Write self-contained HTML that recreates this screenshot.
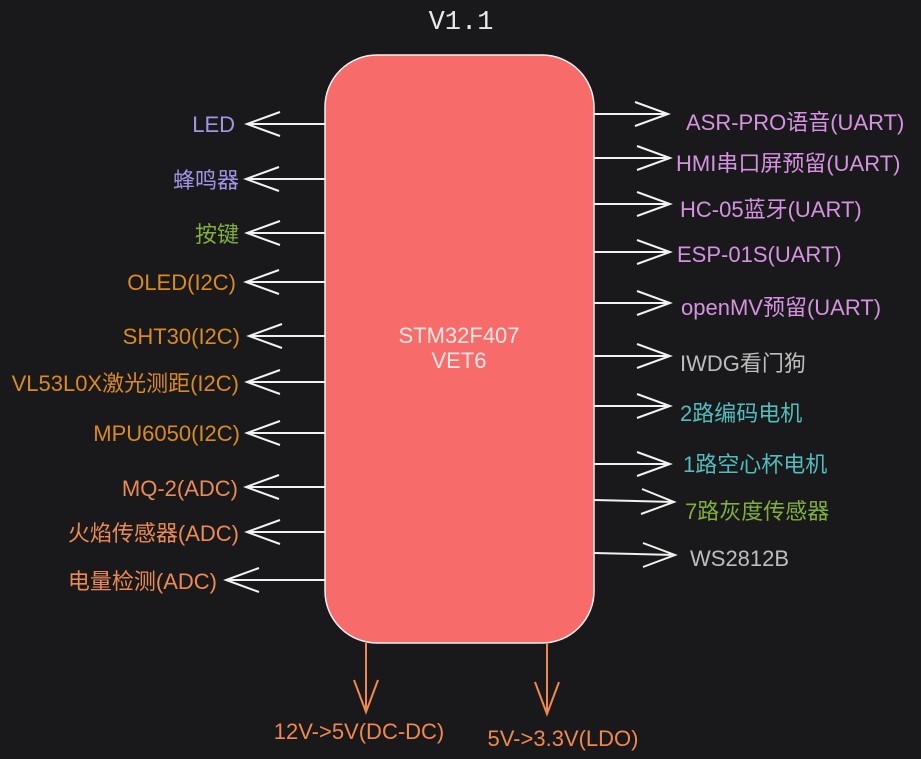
<!DOCTYPE html>
<html><head><meta charset="utf-8"><style>
html,body{margin:0;padding:0;background:#19191b;}
svg{display:block}
text{font-family:"Liberation Sans","Noto Sans CJK SC",sans-serif;font-size:22px;}
</style></head><body>
<svg width="921" height="759" viewBox="0 0 921 759" xmlns="http://www.w3.org/2000/svg">
<rect width="921" height="759" fill="#19191b"/>
<text x="461" y="29" text-anchor="middle" fill="#e8e8e8" style="font-family:'Liberation Mono',monospace;font-size:27px">V1.1</text>
<rect x="325" y="55" width="269" height="588" rx="52" ry="52" fill="#f76b6b" stroke="#f4f4f4" stroke-width="1.5"/>
<text x="459" y="343" text-anchor="middle" fill="#fde9e3">STM32F407</text>
<text x="459" y="368" text-anchor="middle" fill="#fde9e3">VET6</text>
<g stroke="#f2f2f2" stroke-width="2" fill="none">
<path d="M325 124H247M280 112L247 124L280 136"/>
<path d="M325 179H246M279 167L246 179L279 191"/>
<path d="M325 233H247M280 221L247 233L280 245"/>
<path d="M325 282H246M279 270L246 282L279 294"/>
<path d="M325 336H249M282 324L249 336L282 348"/>
<path d="M325 382H247M280 370L247 382L280 394"/>
<path d="M325 433H247M280 421L247 433L280 445"/>
<path d="M325 487H246M279 475L246 487L279 499"/>
<path d="M325 532H247M280 520L247 532L280 544"/>
<path d="M325 580H226M259 568L226 580L259 592"/>
<path d="M594 114H668M635 102L668 114L635 126"/>
<path d="M594 158H670M637 146L670 158L637 170"/>
<path d="M594 204H670M637 192L670 204L637 216"/>
<path d="M594 252H670M637 240L670 252L637 264"/>
<path d="M594 303H670M637 291L670 303L637 315"/>
<path d="M594 356H670M637 344L670 356L637 368"/>
<path d="M594 406H670M637 394L670 406L637 418"/>
<path d="M594 464H670M637 452L670 464L637 476"/>
<path d="M594 500L674 502M642 489L674 502L641 514"/>
<path d="M594 553L675 555M643 543L675 555L643 567"/>
</g>
<g stroke="#f0884f" stroke-width="2" fill="none">
<path d="M366 643V712M354 680L366 712L378 680"/>
<path d="M547 643V714M535 682L547 714L559 682"/>
</g>
<g text-anchor="end">
<text x="235" y="132" fill="#a394e6">LED</text>
<text x="239" y="188" fill="#a394e6">蜂鸣器</text>
<text x="239" y="242" fill="#7fb03a">按键</text>
<text x="236" y="290" fill="#d98a23">OLED(I2C)</text>
<text x="240" y="344" fill="#d98a23">SHT30(I2C)</text>
<text x="239" y="391" fill="#d98a23">VL53L0X激光测距(I2C)</text>
<text x="240" y="441" fill="#d98a23">MPU6050(I2C)</text>
<text x="238" y="496" fill="#ec8a55">MQ-2(ADC)</text>
<text x="239" y="541" fill="#ec8a55">火焰传感器(ADC)</text>
<text x="217" y="589" fill="#ec8a55">电量检测(ADC)</text>
</g>
<g>
<text x="686" y="130" fill="#d592e0">ASR-PRO语音(UART)</text>
<text x="676" y="171" fill="#d592e0">HMI串口屏预留(UART)</text>
<text x="680" y="217" fill="#d592e0">HC-05蓝牙(UART)</text>
<text x="677" y="262" fill="#d592e0">ESP-01S(UART)</text>
<text x="681" y="315" fill="#d592e0">openMV预留(UART)</text>
<text x="680" y="371" fill="#bdbdbd">IWDG看门狗</text>
<text x="680" y="421" fill="#52bcbc">2路编码电机</text>
<text x="683" y="472" fill="#52bcbc">1路空心杯电机</text>
<text x="685" y="519" fill="#7fb03a">7路灰度传感器</text>
<text x="690" y="566" fill="#bdbdbd">WS2812B</text>
</g>
<text x="359" y="739" text-anchor="middle" fill="#f0884f">12V-&gt;5V(DC-DC)</text>
<text x="563" y="746" text-anchor="middle" fill="#f0884f">5V-&gt;3.3V(LDO)</text>
</svg>
</body></html>
